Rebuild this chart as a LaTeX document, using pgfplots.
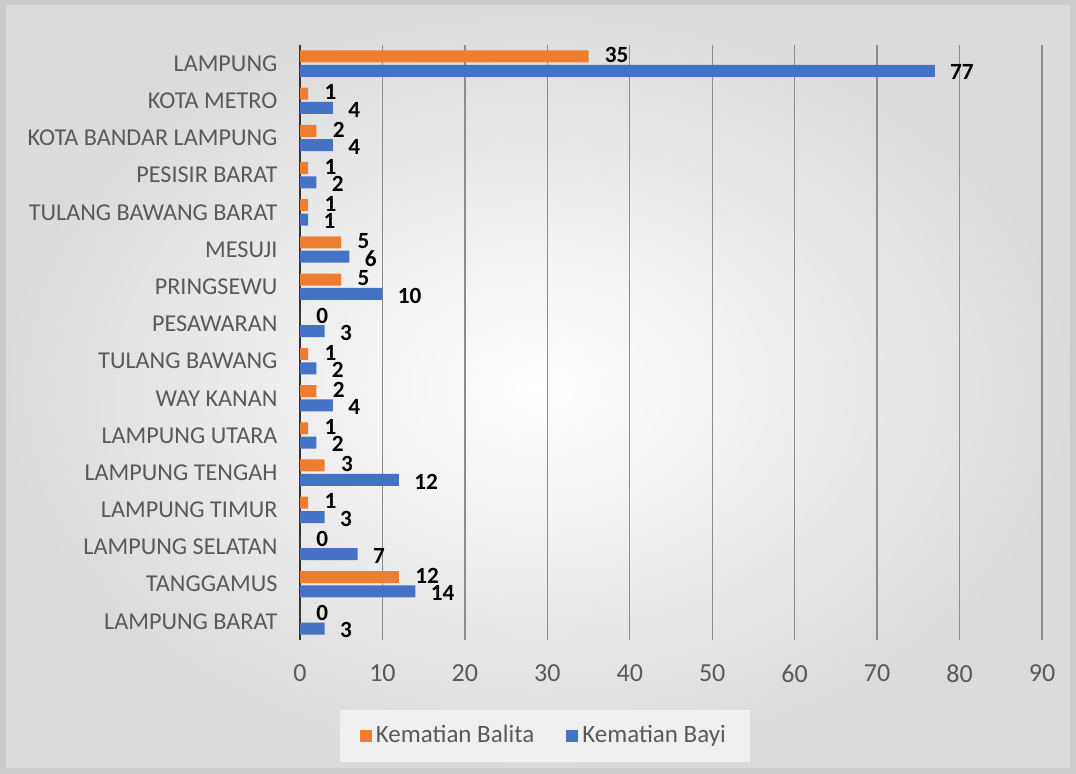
\documentclass[border=0pt]{standalone}
\usepackage{fontspec}
\setmainfont{Carlito}
\usepackage{pgfplots}
\pgfplotsset{compat=1.18}
\definecolor{cOrange}{HTML}{ED7D31}
\definecolor{cBlue}{HTML}{4472C4}
\definecolor{cText}{HTML}{595959}
\begin{document}
\begin{tikzpicture}[x=1pt,y=1pt]
\path[use as bounding box] (0,0) rectangle (538,387);
\fill[black!20] (0,0) rectangle (538,387);
\shade[inner color=white, outer color=black!14] (3,3) rectangle (535,384);
\begin{axis}[
  at={(150pt,67pt)}, anchor=south west,
  scale only axis, width=371pt, height=297.5pt,
  xbar, bar width=6pt,
  xmin=0, xmax=90, ymin=-0.5, ymax=15.5,
  xtick={0,10,...,90},
  ytick={0,...,15},
  yticklabels={LAMPUNG BARAT,TANGGAMUS,LAMPUNG SELATAN,LAMPUNG TIMUR,LAMPUNG TENGAH,LAMPUNG UTARA,WAY KANAN,TULANG BAWANG,PESAWARAN,PRINGSEWU,MESUJI,TULANG BAWANG BARAT,PESISIR BARAT,KOTA BANDAR LAMPUNG,KOTA METRO,LAMPUNG},
  /pgf/number format/assume math mode=true,
  xmajorgrids, major grid style={black!45, line width=0.7pt},
  axis y line*=left, axis x line*=bottom,
  x axis line style={draw=none},
  y axis line style={draw=black!80, line width=1.3pt, -},
  tick style={draw=none},
  xticklabel style={font=\fontsize{13}{14}\selectfont, text=cText, yshift=-9pt},
  yticklabel style={font=\fontsize{12.1}{13}\selectfont, text=cText, xshift=-3.5pt},
  nodes near coords,
  every node near coord/.append style={font=\bfseries\fontsize{11.6}{13}\selectfont, text=black, anchor=west, inner sep=0pt},
  legend style={at={(0.33,-0.161)}, anchor=center, legend columns=2, draw=none, fill=black!6, font=\fontsize{12.5}{14}\selectfont, text=cText, inner xsep=10pt, inner ysep=6pt, /tikz/every even column/.append style={column sep=14pt}},
  legend image code/.code={\fill[#1] (0pt,-3pt) rectangle (6pt,3pt);},
]
\addplot[fill=cOrange, draw=none, bar shift=3.6pt, every node near coord/.append style={xshift=8pt, yshift=0.6pt}] coordinates {
(0,0) (12,1) (0,2) (1,3) (3,4) (1,5) (2,6) (1,7) (0,8) (5,9) (5,10) (1,11) (1,12) (2,13) (1,14) (35,15)};
\addlegendentry{Kematian Balita}
\addplot[fill=cBlue, draw=none, bar shift=-3.6pt, every node near coord/.append style={xshift=7.5pt, yshift=-0.8pt}] coordinates {
(3,0) (14,1) (7,2) (3,3) (12,4) (2,5) (4,6) (2,7) (3,8) (10,9) (6,10) (1,11) (2,12) (4,13) (4,14) (77,15)};
\addlegendentry{Kematian Bayi}
\end{axis}
\end{tikzpicture}
\end{document}
